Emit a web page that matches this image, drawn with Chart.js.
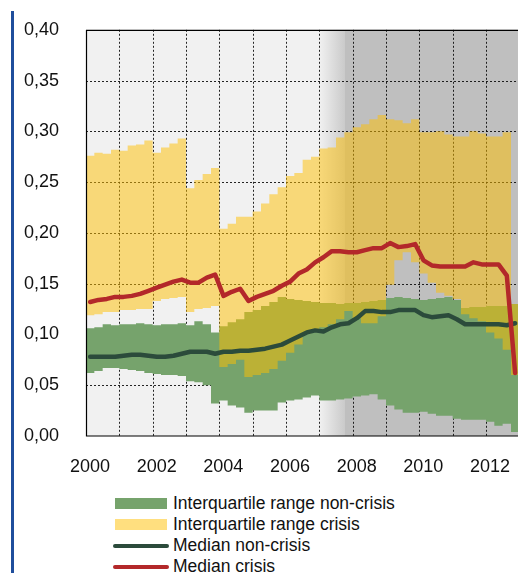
<!DOCTYPE html>
<html>
<head>
<meta charset="utf-8">
<script src="https://cdn.jsdelivr.net/npm/chart.js@4.4.1/dist/chart.umd.min.js"></script>
<style>
  body { margin: 0; background: #fff; width: 518px; height: 573px; overflow: hidden; position: relative; font-family: "Liberation Sans", Arial, sans-serif; }
  #blueBar { position: absolute; left: 11px; top: 11px; width: 2.5px; height: 562px; background: #1f4e9c; }
  #chartBox { position: absolute; left: 0; top: 0; }
  #legend { position: absolute; left: 113px; top: 493px; }
  .item { position: relative; height: 21px; line-height: 21px; font-size: 17.5px; color: #111; padding-left: 60px; white-space: nowrap; }
  .item .mark { position: absolute; left: 2px; top: 5px; width: 52px; height: 11px; }
  .item .line { position: absolute; left: 0; top: 8.5px; width: 56px; height: 4px; border-radius: 2px; }
</style>
</head>
<body>
<div id="blueBar"></div>
<div id="chartBox"><canvas id="bandChart" width="518" height="480"></canvas></div>
<div id="legend"></div>
<script>
// quarterly data, 2000 Q1 - 2012 Q4
var yellowHigh = [0.276, 0.279, 0.278, 0.282, 0.281, 0.286, 0.287, 0.291, 0.279, 0.284, 0.288, 0.293,
  0.244, 0.252, 0.258, 0.264, 0.204, 0.209, 0.216, 0.216, 0.221, 0.229, 0.238, 0.245, 0.256, 0.259,
  0.272, 0.275, 0.283, 0.284, 0.294, 0.299, 0.304, 0.307, 0.312, 0.316, 0.312, 0.311, 0.308, 0.312,
  0.299, 0.299, 0.300, 0.297, 0.295, 0.295, 0.300, 0.298, 0.295, 0.295, 0.299, 0.130];
var yellowLow = [0.119, 0.120, 0.122, 0.122, 0.124, 0.124, 0.125, 0.125, 0.133, 0.135, 0.136, 0.137,
  0.122, 0.125, 0.126, 0.128, 0.068, 0.071, 0.075, 0.058, 0.060, 0.062, 0.066, 0.074, 0.082, 0.090,
  0.101, 0.105, 0.107, 0.110, 0.115, 0.123, 0.116, 0.111, 0.111, 0.118, 0.149, 0.173, 0.181, 0.171,
  0.160, 0.151, 0.141, 0.138, 0.135, 0.120, 0.116, 0.113, 0.102, 0.096, 0.085, 0.060];
var greenHigh = [0.106, 0.107, 0.110, 0.109, 0.110, 0.110, 0.111, 0.110, 0.109, 0.110, 0.110, 0.111,
  0.109, 0.113, 0.110, 0.102, 0.108, 0.112, 0.115, 0.122, 0.124, 0.128, 0.132, 0.137, 0.135, 0.134,
  0.133, 0.132, 0.131, 0.131, 0.130, 0.131, 0.131, 0.132, 0.133, 0.134, 0.136, 0.137, 0.136, 0.135,
  0.134, 0.135, 0.136, 0.137, 0.134, 0.126, 0.127, 0.127, 0.128, 0.128, 0.128, 0.130];
var greenLow = [0.062, 0.064, 0.067, 0.067, 0.066, 0.065, 0.064, 0.062, 0.061, 0.060, 0.060, 0.059,
  0.054, 0.053, 0.050, 0.032, 0.035, 0.030, 0.028, 0.023, 0.025, 0.025, 0.025, 0.033, 0.035, 0.036,
  0.038, 0.040, 0.035, 0.035, 0.036, 0.037, 0.039, 0.040, 0.041, 0.036, 0.030, 0.026, 0.023, 0.023,
  0.024, 0.022, 0.020, 0.020, 0.017, 0.016, 0.016, 0.016, 0.014, 0.010, 0.012, 0.004];
var medianCrisis = [0.132, 0.134, 0.135, 0.137, 0.137, 0.138, 0.140, 0.143, 0.146, 0.149, 0.152, 0.154,
  0.151, 0.151, 0.156, 0.159, 0.138, 0.142, 0.145, 0.133, 0.137, 0.140, 0.143, 0.148, 0.152, 0.160,
  0.164, 0.171, 0.176, 0.182, 0.182, 0.181, 0.181, 0.183, 0.185, 0.185, 0.190, 0.186, 0.187, 0.189,
  0.173, 0.168, 0.167, 0.167, 0.167, 0.167, 0.171, 0.169, 0.169, 0.169, 0.158, 0.062];
var medianNonCrisis = [0.078, 0.078, 0.078, 0.078, 0.079, 0.080, 0.080, 0.079, 0.078, 0.078, 0.079, 0.081,
  0.083, 0.083, 0.083, 0.081, 0.083, 0.083, 0.084, 0.084, 0.085, 0.086, 0.088, 0.090, 0.094, 0.098,
  0.102, 0.104, 0.103, 0.107, 0.110, 0.111, 0.116, 0.123, 0.123, 0.122, 0.122, 0.124, 0.124, 0.124,
  0.119, 0.117, 0.118, 0.119, 0.115, 0.110, 0.110, 0.110, 0.110, 0.110, 0.109, 0.111];
var yTicks = [0, 0.05, 0.10, 0.15, 0.20, 0.25, 0.30, 0.35, 0.40];
var crisisStart = 2007, crisisFull = 2007.75;

var seriesNames = ["Interquartile range non-crisis", "Interquartile range crisis", "Median non-crisis", "Median crisis"];
var greenCol = "#76a36c", yellowCol = "rgba(255,192,0,0.5)", darkCol = "#2b4b3b", redCol = "#b3282a";

// bands hold their value over the whole quarter, medians sit mid-quarter
function bandPoints(arr) {
  var pts = arr.map(function(v, i) { return {x: 2000 + i / 4, y: v}; });
  pts.push({x: 2000 + arr.length / 4, y: arr[arr.length - 1]});
  return pts;
}
function linePoints(arr) {
  return arr.map(function(v, i) { return {x: 2000.125 + i / 4, y: v}; });
}

var bgPlugin = {
  id: "bg",
  beforeDraw: function(chart) {
    var ctx = chart.ctx, a = chart.chartArea, x = chart.scales.x;
    ctx.save();
    ctx.fillStyle = "#f1f1f1";
    ctx.fillRect(a.left, a.top, a.right - a.left, a.bottom - a.top);
    var x0 = x.getPixelForValue(crisisStart), x1 = x.getPixelForValue(crisisFull);
    var g = ctx.createLinearGradient(x0, 0, x1, 0);
    g.addColorStop(0, "#f1f1f1");
    g.addColorStop(1, "#cbcbcb");
    ctx.fillStyle = g;
    ctx.fillRect(x0, a.top, x1 - x0, a.bottom - a.top);
    ctx.fillStyle = "#bfbfbf";
    ctx.fillRect(x1, a.top, a.right - x1, a.bottom - a.top);
    ctx.restore();
  },
  // dashed grid under the bands
  beforeDatasetsDraw: function(chart) {
    var ctx = chart.ctx, a = chart.chartArea, x = chart.scales.x, y = chart.scales.y;
    ctx.save();
    ctx.strokeStyle = "rgba(0,0,0,0.85)";
    ctx.lineWidth = 1;
    ctx.setLineDash([2, 2]);
    ctx.beginPath();
    for (var yr = 2001; yr <= 2012; yr++) {
      var px = Math.round(x.getPixelForValue(yr)) + 0.5;
      ctx.moveTo(px, a.top);
      ctx.lineTo(px, a.bottom);
    }
    yTicks.slice(1, -1).forEach(function(v) {
      var py = Math.round(y.getPixelForValue(v)) + 0.5;
      ctx.moveTo(a.left, py);
      ctx.lineTo(a.right, py);
    });
    ctx.stroke();
    ctx.restore();
  },
  afterDraw: function(chart) {
    var ctx = chart.ctx, a = chart.chartArea;
    ctx.save();
    ctx.strokeStyle = "#000";
    ctx.lineWidth = 1.2;
    ctx.beginPath();
    ctx.moveTo(a.right, a.top + 0.5);
    ctx.lineTo(a.left + 0.5, a.top + 0.5);
    ctx.lineTo(a.left + 0.5, a.bottom);
    ctx.lineTo(a.right, a.bottom);
    ctx.stroke();
    ctx.restore();
  }
};

var bandChart = new Chart(document.getElementById("bandChart"), {
  type: "line",
  data: {
    datasets: [
      {label: seriesNames[3], data: linePoints(medianCrisis), borderColor: redCol, borderWidth: 4.5,
        pointRadius: 0, fill: false, borderCapStyle: "round", borderJoinStyle: "round", order: 0},
      {label: seriesNames[2], data: linePoints(medianNonCrisis), borderColor: darkCol, borderWidth: 4.5,
        pointRadius: 0, fill: false, borderCapStyle: "round", borderJoinStyle: "round", order: 1},
      {label: seriesNames[1], data: bandPoints(yellowHigh), stepped: true, borderWidth: 0,
        borderColor: "rgba(0,0,0,0)", pointRadius: 0, fill: "+1", backgroundColor: yellowCol, order: 2},
      {label: "crisis low", data: bandPoints(yellowLow), stepped: true, borderWidth: 0,
        borderColor: "rgba(0,0,0,0)", pointRadius: 0, fill: false, order: 3},
      {label: seriesNames[0], data: bandPoints(greenHigh), stepped: true, borderWidth: 0,
        borderColor: "rgba(0,0,0,0)", pointRadius: 0, fill: "+1", backgroundColor: greenCol, order: 4},
      {label: "non-crisis low", data: bandPoints(greenLow), stepped: true, borderWidth: 0,
        borderColor: "rgba(0,0,0,0)", pointRadius: 0, fill: false, order: 5}
    ]
  },
  options: {
    responsive: false,
    devicePixelRatio: 1,
    animation: false,
    layout: {padding: {top: 28, right: 0, bottom: 0, left: 0}},
    plugins: {legend: {display: false}, tooltip: {enabled: false}},
    scales: {
      x: {
        type: "linear", min: 2000, max: 2012.96,
        afterFit: function(s) { s.height = 44; },
        grid: {display: false},
        border: {display: false},
        ticks: {
          stepSize: 1, autoSkip: false, includeBounds: false, maxRotation: 0, padding: 12, labelOffset: 4,
          color: "#111", font: {family: "Liberation Sans", size: 18},
          callback: function(v) { return v % 2 === 0 ? String(v) : ""; }
        }
      },
      y: {
        min: 0, max: 0.4,
        afterFit: function(s) { s.width = 86; },
        afterBuildTicks: function(s) { s.ticks = yTicks.map(function(v) { return {value: v}; }); },
        grid: {display: false},
        border: {display: false},
        ticks: {
          padding: 19, color: "#111", font: {family: "Liberation Sans", size: 18},
          callback: function(v) { return v.toFixed(2).replace(".", ","); }
        }
      }
    }
  },
  plugins: [bgPlugin]
});

// legend under the chart
var legendRows = [
  {name: seriesNames[0], kind: "mark", col: greenCol},
  {name: seriesNames[1], kind: "mark", col: yellowCol},
  {name: seriesNames[2], kind: "line", col: darkCol},
  {name: seriesNames[3], kind: "line", col: redCol}
];
var legendDiv = document.getElementById("legend");
legendRows.forEach(function(r) {
  var row = document.createElement("div");
  row.className = "item";
  var m = document.createElement("span");
  m.className = r.kind;
  m.style.background = r.col;
  row.appendChild(m);
  row.appendChild(document.createTextNode(r.name));
  legendDiv.appendChild(row);
});
</script>
</body>
</html>
